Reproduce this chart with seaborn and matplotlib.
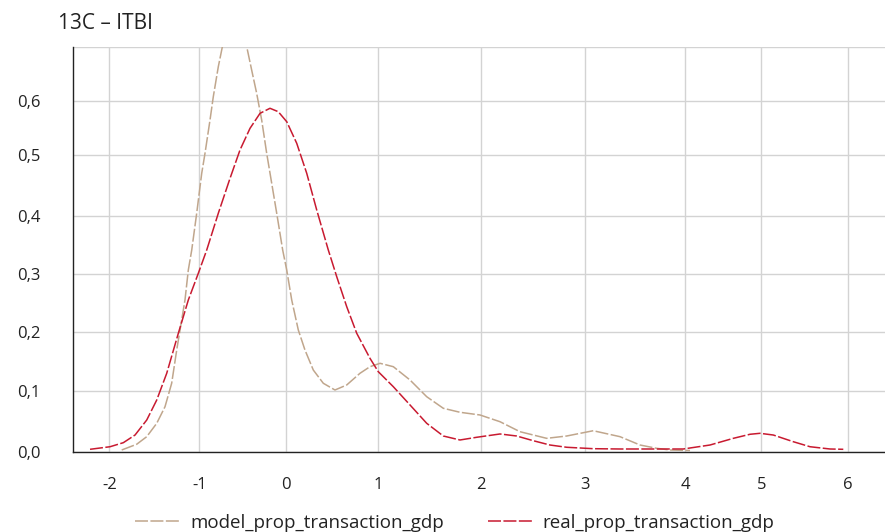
import numpy as np
import pandas as pd
import matplotlib
matplotlib.use("Agg")
import matplotlib.pyplot as plt
import seaborn as sns

# Density curves (x value, density)
model_x = [-1.862, -1.696, -1.584, -1.473, -1.381, -1.307, -1.251, -1.214, -1.159, -1.122,
           -1.084, -1.029, -0.972, -0.934, -0.876, -0.838, -0.780, -0.729, -0.66, -0.59,
           -0.52, -0.451, -0.394, -0.336, -0.278, -0.220, -0.162, -0.104, -0.035, 0.011,
           0.065, 0.136, 0.208, 0.298, 0.406, 0.532, 0.659, 0.802, 0.910, 1.017,
           1.146, 1.308, 1.470, 1.631, 1.793, 1.987, 2.181, 2.374, 2.632, 2.826,
           3.085, 3.351, 3.550, 3.716, 3.848, 4.062]
model_y = [0.0033, 0.0126, 0.025, 0.0468, 0.0739, 0.1127, 0.1697, 0.204, 0.2554, 0.3069,
           0.3412, 0.404, 0.4699, 0.5031, 0.5648, 0.608, 0.6639, 0.7043, 0.740, 0.7535,
           0.740, 0.701, 0.6577, 0.6143, 0.5648, 0.5031, 0.4534, 0.404, 0.3412, 0.3069,
           0.2554, 0.204, 0.1697, 0.1354, 0.1127, 0.1012, 0.1098, 0.1298, 0.1411, 0.1469,
           0.1411, 0.1183, 0.0902, 0.0713, 0.0648, 0.0604, 0.0494, 0.0331, 0.0223, 0.0261,
           0.0347, 0.025, 0.0114, 0.006, 0.0033, 0.0024]

real_x = [-2.214, -1.992, -1.844, -1.714, -1.584, -1.473, -1.362, -1.233, -1.122, -1.011,
          -0.914, -0.780, -0.645, -0.529, -0.413, -0.297, -0.182, -0.086, 0.011, 0.119,
          0.227, 0.335, 0.460, 0.551, 0.659, 0.767, 0.910, 1.0, 1.146, 1.308,
          1.470, 1.631, 1.793, 1.955, 2.181, 2.342, 2.503, 2.664, 2.826, 3.085,
          3.351, 3.980, 4.325, 4.632, 4.851, 4.983, 5.139, 5.370, 5.564, 5.795, 5.949]
real_y = [0.0044, 0.0086, 0.0152, 0.0277, 0.0522, 0.0848, 0.1298, 0.1983, 0.2554, 0.3012,
          0.3412, 0.404, 0.4613, 0.5093, 0.5494, 0.5772, 0.5865, 0.5802, 0.5617, 0.5217,
          0.4699, 0.4094, 0.3412, 0.2954, 0.2439, 0.1983, 0.1555, 0.1325, 0.1068, 0.0767,
          0.0468, 0.0261, 0.0196, 0.024, 0.0294, 0.0261, 0.0184, 0.0114, 0.0077, 0.0054,
          0.0049, 0.0049, 0.0114, 0.0223, 0.0289, 0.0305, 0.0277, 0.0168, 0.0086, 0.0049, 0.0044]

series_names = ["model_prop_transaction_gdp", "real_prop_transaction_gdp"]
x_ticks = [-2, -1, 0, 1, 2, 3, 4, 5, 6]
x_tick_labels = ["-2", "-1", "0", "1", "2", "3", "4", "5", "6"]
y_ticks = [0.0, 0.1, 0.2, 0.3, 0.4, 0.5, 0.6, 0.7]
y_tick_labels = ["0,0", "0,1", "0,2", "0,3", "0,4", "0,5", "0,6", ""]
title = "13C – ITBI"

# Axis layout: tick spacing along each axis is uneven
X_KNOT_POS = [109.3, 199.3, 285.7, 378.3, 481.3, 584.7, 685.3, 761.3, 847.7]
Y_KNOT_POS = [0.0, 61.3, 119.7, 178.0, 236.3, 297.0, 351.0, 404.7]


def piecewise(src, dst):
    src = np.asarray(src, float)
    dst = np.asarray(dst, float)
    lo = (dst[1] - dst[0]) / (src[1] - src[0])
    hi = (dst[-1] - dst[-2]) / (src[-1] - src[-2])

    def f(v):
        v = np.asarray(v, float)
        out = np.interp(v, src, dst)
        out = np.where(v < src[0], dst[0] + (v - src[0]) * lo, out)
        out = np.where(v > src[-1], dst[-1] + (v - src[-1]) * hi, out)
        return out
    return f


df = pd.concat([
    pd.DataFrame({"x": model_x, "density": model_y, "series": series_names[0]}),
    pd.DataFrame({"x": real_x, "density": real_y, "series": series_names[1]}),
])

sns.set_style("white")
plt.rcParams["font.family"] = ["Open Sans", "DejaVu Sans"]

colors = {series_names[0]: "#c0a68c", series_names[1]: "#c81a30"}

fig = plt.figure(figsize=(8.85, 5.32), dpi=100)
ax = fig.add_axes([73.3 / 885, 1 - 452 / 532, 1 - 73.3 / 885, (452 - 47.3) / 532])

for name in series_names:
    sub = df[df["series"] == name]
    sns.lineplot(data=sub, x="x", y="density", ax=ax, color=colors[name],
                 linewidth=1.1, linestyle=(0, (8.5, 1.6)), label=name,
                 estimator=None, sort=False, zorder=3)

ax.set_xscale("function", functions=(piecewise(x_ticks, X_KNOT_POS),
                                     piecewise(X_KNOT_POS, x_ticks)))
ax.set_yscale("function", functions=(piecewise(y_ticks, Y_KNOT_POS),
                                     piecewise(Y_KNOT_POS, y_ticks)))

ax.set_xlim(-2.4, 6.0 + (885 - 847.7) / 86.4)
ax.set_ylim(0, 0.7)
ax.set_xticks(x_ticks)
ax.set_xticklabels(x_tick_labels)
ax.set_yticks(y_ticks)
ax.set_yticklabels(y_tick_labels)
ax.set_xlabel("")
ax.set_ylabel("")

ax.grid(True, color="#d3d3d3", linewidth=1.0, zorder=0)
ax.set_axisbelow(True)
for side in ["top", "right"]:
    ax.spines[side].set_visible(False)
for side in ["left", "bottom"]:
    ax.spines[side].set_color("#222222")
    ax.spines[side].set_linewidth(1.0)

ax.tick_params(axis="x", direction="out", length=10, width=1.0, color="#222222",
               pad=8, labelsize=12, labelcolor="#222222")
ax.tick_params(axis="y", direction="out", length=11.5, width=1.0, color="#222222",
               pad=12, labelsize=12, labelcolor="#222222")
ax.yaxis.get_major_ticks()[-1].tick1line.set_visible(False)

handles, labels = ax.get_legend_handles_labels()
ax.get_legend().remove()
fig.legend(handles, labels, loc="center", bbox_to_anchor=(455 / 885, 1 - 523 / 532),
           ncol=2, frameon=False, fontsize=13.5, handlelength=2.35, handletextpad=0.6,
           columnspacing=2.3, labelcolor="#222222")

fig.text(57.5 / 885, 1 - 29 / 532, title, fontsize=15, color="#222222",
         ha="left", va="baseline")

fig.savefig("out.png", dpi=100)
